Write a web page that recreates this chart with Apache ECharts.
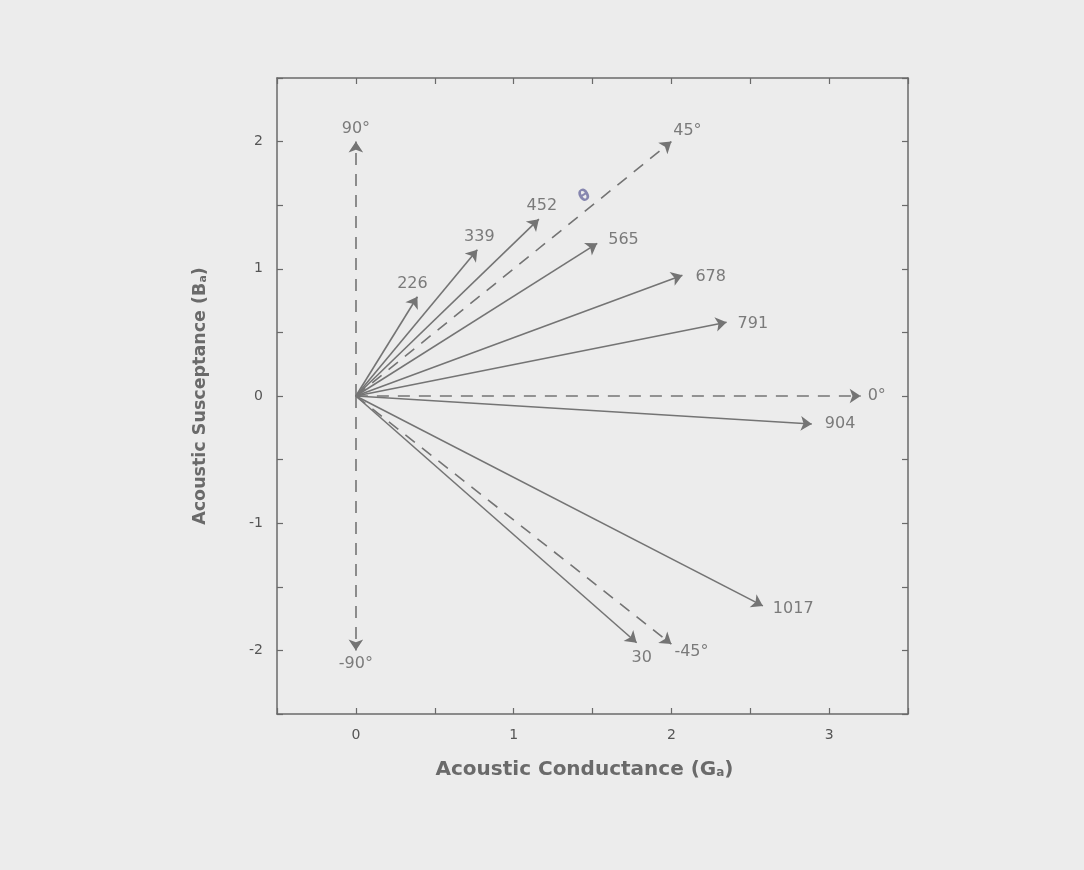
<!DOCTYPE html>
<html><head><meta charset="utf-8">
<script src="https://cdn.jsdelivr.net/npm/echarts@6/dist/echarts.min.js"></script>
<style>html,body{margin:0;background:#ececec}#c{width:1084px;height:870px}</style>
</head><body><div id="c"></div><script>
// Frequency vectors (admittance): label, conductance G, susceptance B
const vectorLabels = ['226','339','452','565','678','791','904','1017','30'];
const vectorG = [0.39, 0.77, 1.16, 1.53, 2.07, 2.35, 2.89, 2.58, 1.78];
const vectorB = [0.78, 1.15, 1.39, 1.20, 0.95, 0.58, -0.22, -1.65, -1.94];
// Reference phase-angle vectors (dashed)
const refLabels = ['90°','45°','0°','-45°','-90°'];
const refG = [0, 2, 3.2, 2, 0];
const refB = [2, 2, 0, -1.95, -2];
// Angle annotation
const thetaText = 'θ';
const thetaG = 1.45, thetaB = 1.57;

// label placement (style only)
const labelPlace = {
  '226':['top',[-5,0]], '339':['top',[2,0]], '452':['top',[3,0]],
  '565':['right',[6,-4]], '678':['right',[8,2]], '791':['right',[6,2]],
  '904':['right',[8,0]], '1017':['right',[5,3]], '30':['bottom',[5,2]],
  '90°':['top',[0,0]], '45°':['top',[16,2]], '0°':['right',[2,0]],
  '-45°':['right',[-2,8]], '-90°':['bottom',[0,0]]
};

const FONT = 'DejaVu Sans, Verdana, sans-serif';
const lineColor = '#747474';
const textColor = '#5e5e5e';

function lineData(G, B){ return G.map((g,i)=>({coords:[[0,0],[g,B[i]]]})); }
function labelData(L, G, B){
  return L.map((l,i)=>({value:[G[i],B[i]], label:{formatter:l, position:labelPlace[l][0], offset:labelPlace[l][1]}}));
}

const axisCommon = {
  type:'value', interval:0.5,
  axisLine:{show:true, onZero:false, lineStyle:{color:'#6a6a6a', width:1.5}},
  axisTick:{show:true, inside:true, length:6, lineStyle:{color:'#6a6a6a', width:1.2}},
  splitLine:{show:false}
};
function nameStyle(size, pad){ return {fontFamily:FONT, fontSize:size, fontWeight:'bold', color:'#6a6a6a', padding:pad,
  rich:{s:{fontFamily:FONT, fontSize:Math.round(size*0.6), fontWeight:'bold', color:'#6a6a6a', padding:[6,0,0,0]}}}; }
const tickLabel = {margin:14, fontFamily:FONT, fontSize:14, color:'#555',
  formatter:v=> Number.isInteger(v) ? String(v) : ''};

const chart = echarts.init(document.getElementById('c'));
chart.setOption({
  backgroundColor:'#ececec',
  animation:false,
  grid:{left:277, right:176, top:78, bottom:156},
  xAxis:[
    Object.assign({}, axisCommon, {min:-0.5, max:3.5, position:'bottom',
      name:'Acoustic Conductance (G{s|a})', nameLocation:'middle', nameGap:46,
      nameTextStyle:nameStyle(20,[0,16,0,0]), axisLabel:tickLabel}),
    Object.assign({}, axisCommon, {min:-0.5, max:3.5, position:'top', axisLabel:{show:false}})
  ],
  yAxis:[
    Object.assign({}, axisCommon, {min:-2.5, max:2.5, position:'left',
      name:'Acoustic Susceptance (B{s|a})', nameLocation:'middle', nameGap:68,
      nameTextStyle:nameStyle(17.5,0), axisLabel:tickLabel}),
    Object.assign({}, axisCommon, {min:-2.5, max:2.5, position:'right', axisLabel:{show:false}})
  ],
  series:[
    {type:'lines', coordinateSystem:'cartesian2d', z:3,
     symbol:['none','arrow'], symbolSize:11,
     lineStyle:{color:lineColor, width:1.6, type:'solid', opacity:1},
     data:lineData(vectorG, vectorB)},
    {type:'lines', coordinateSystem:'cartesian2d', z:3,
     symbol:['none','arrow'], symbolSize:11,
     lineStyle:{color:lineColor, width:1.6, type:[12,9], opacity:1},
     data:lineData(refG, refB)},
    {type:'scatter', symbolSize:0, z:4,
     label:{show:true, fontFamily:FONT, fontSize:16, color:textColor, distance:5},
     data:labelData(vectorLabels, vectorG, vectorB).concat(labelData(refLabels, refG, refB))},
    {type:'scatter', symbolSize:0, z:4,
     label:{show:true, position:'inside', formatter:thetaText, fontFamily:FONT, fontSize:16,
       fontWeight:'bold', color:'#6d6da0', rotate:30},
     data:[[thetaG, thetaB]]}
  ]
});
</script></body></html>
